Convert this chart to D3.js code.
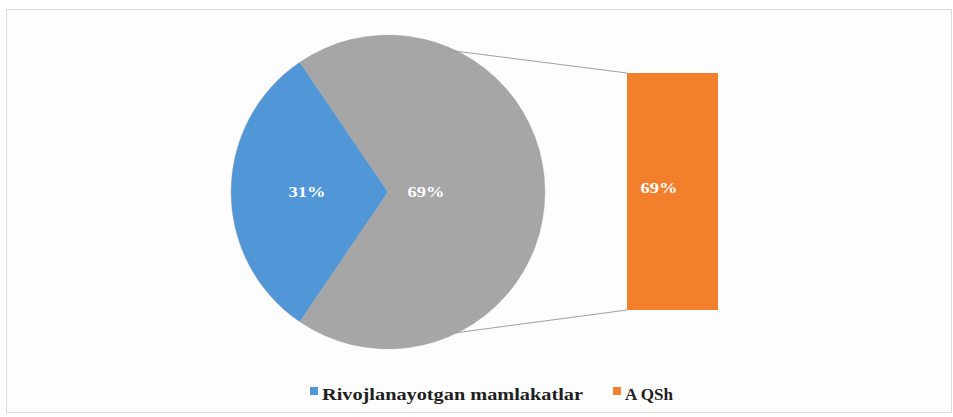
<!DOCTYPE html>
<html>
<head>
<meta charset="utf-8">
<script src="https://cdn.jsdelivr.net/npm/d3@7"></script>
<style>
  body { margin: 0; background: #ffffff; }
  svg { display: block; }
</style>
</head>
<body>
<div id="chart"></div>
<script>
// data
var categories = ["Rivojlanayotgan mamlakatlar", "A QSh"];
var pieNames = ["A QSh", "Rivojlanayotgan mamlakatlar"]; // pie order: split part first
var pieValues = [69, 31];
var pieLabels = ["69%", "31%"];
var barNames = ["A QSh"];
var barValues = [69];
var barLabels = ["69%"];

var colors = {
  "Rivojlanayotgan mamlakatlar": "#5197d8",
  "A QSh": "#f17f2c",
  pieSplit: "#a6a6a6"
};

var width = 953, height = 417;

var svg = d3.select("#chart")
  .append("svg")
  .attr("width", width)
  .attr("height", height);

// chart frame
svg.append("rect")
  .attr("x", 6.5).attr("y", 9.5)
  .attr("width", 945).attr("height", 403)
  .attr("fill", "#fdfdfd")
  .attr("stroke", "#dcdcdc");

// pie
var cx = 388, cy = 192, radius = 157;
var total = d3.sum(pieValues);
var splitShare = pieValues[0] / total;
var start = Math.PI / 2 - splitShare * Math.PI;

var pie = d3.pie()
  .sort(null)
  .startAngle(start)
  .endAngle(start + 2 * Math.PI);

var arcs = pie(pieValues);

var arc = d3.arc().innerRadius(0).outerRadius(radius);

// bar (secondary plot)
var x = d3.scaleBand()
  .domain(barNames)
  .range([627, 718])
  .padding(0);

var y = d3.scaleLinear()
  .domain([0, d3.max(barValues)])
  .range([310, 73]);

// connector lines from pie to bar (drawn first, pie covers their start)
var g = svg.append("g").attr("transform", "translate(" + cx + "," + cy + ")");

var topAngle = 21.5 * Math.PI / 180, botAngle = Math.PI - topAngle;
var connectors = [
  {a: topAngle, bx: x(barNames[0]), by: y(barValues[0])},
  {a: botAngle, bx: x(barNames[0]), by: y(0)}
];
svg.selectAll(".connector")
  .data(connectors)
  .enter()
  .append("line")
  .attr("x1", function(d) { return cx + (radius - 4) * Math.sin(d.a); })
  .attr("y1", function(d) { return cy - (radius - 4) * Math.cos(d.a); })
  .attr("x2", function(d) { return d.bx; })
  .attr("y2", function(d) { return d.by; })
  .attr("stroke", "#a0a0a0")
  .attr("stroke-width", 1);

g.selectAll("path")
  .data(arcs)
  .enter()
  .append("path")
  .attr("d", arc)
  .attr("fill", function(d, i) { return i == 0 ? colors.pieSplit : colors[pieNames[i]]; })
  .attr("stroke", "#b0a49a")
  .attr("stroke-opacity", 0.35)
  .attr("stroke-width", 1);

// pie labels
var labelRadius = [38, 81];
g.selectAll(".pielabel")
  .data(arcs)
  .enter()
  .append("text")
  .attr("x", function(d, i) {
    var a = (d.startAngle + d.endAngle) / 2;
    return labelRadius[i] * Math.sin(a);
  })
  .attr("y", function(d, i) {
    var a = (d.startAngle + d.endAngle) / 2;
    return -labelRadius[i] * Math.cos(a) + 5;
  })
  .attr("text-anchor", "middle")
  .attr("textLength", 37)
  .attr("lengthAdjust", "spacingAndGlyphs")
  .style("font-family", "'Liberation Serif', 'DejaVu Serif', serif")
  .style("font-weight", "bold")
  .style("font-size", "14px")
  .attr("fill", "#ffffff")
  .text(function(d, i) { return pieLabels[i]; });

// bar
svg.selectAll(".bar")
  .data(barValues)
  .enter()
  .append("rect")
  .attr("x", function(d, i) { return x(barNames[i]); })
  .attr("y", function(d) { return y(d); })
  .attr("width", x.bandwidth())
  .attr("height", function(d) { return y(0) - y(d); })
  .attr("fill", colors["A QSh"]);

svg.selectAll(".barlabel")
  .data(barValues)
  .enter()
  .append("text")
  .attr("x", function(d, i) { return x(barNames[i]) + 32; })
  .attr("y", function(d) { return (y(d) + y(0)) / 2 + 1; })
  .attr("text-anchor", "middle")
  .attr("textLength", 37)
  .attr("lengthAdjust", "spacingAndGlyphs")
  .style("font-family", "'Liberation Serif', 'DejaVu Serif', serif")
  .style("font-weight", "bold")
  .style("font-size", "14px")
  .attr("fill", "#ffffff")
  .text(function(d, i) { return barLabels[i]; });

// legend
var legendX = [310, 613];
var legendW = [261, 48];
var legend = svg.selectAll(".legend")
  .data(categories)
  .enter()
  .append("g")
  .attr("transform", function(d, i) { return "translate(" + legendX[i] + ",387)"; });

legend.append("rect")
  .attr("width", 8).attr("height", 8)
  .attr("fill", function(d) { return colors[d]; });

legend.append("text")
  .attr("x", 12)
  .attr("y", 13)
  .attr("textLength", function(d, i) { return legendW[i]; })
  .attr("lengthAdjust", "spacingAndGlyphs")
  .style("font-family", "'Liberation Serif', 'DejaVu Serif', serif")
  .style("font-weight", "bold")
  .style("font-size", "16px")
  .attr("fill", "#1e1e1e")
  .text(function(d) { return d; });
</script>
</body>
</html>
